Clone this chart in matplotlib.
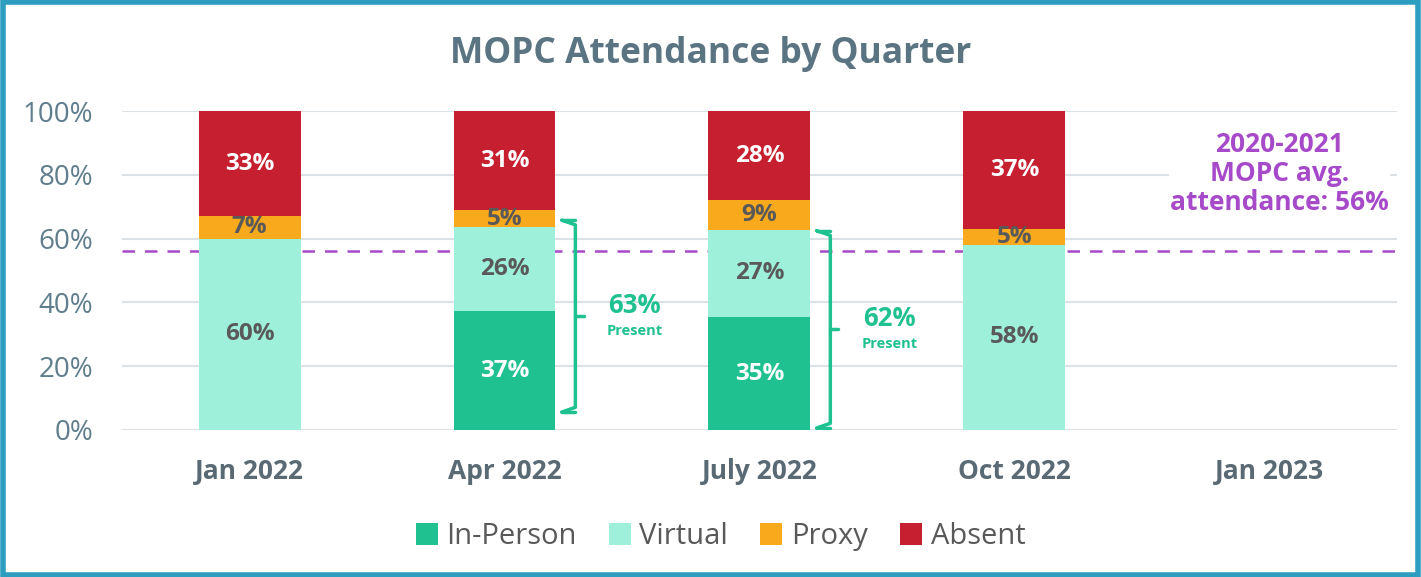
import numpy as np
import matplotlib.pyplot as plt
from matplotlib.patches import Rectangle

plt.rcParams['font.family'] = ['Open Sans', 'DejaVu Sans']

quarters = ['Jan 2022', 'Apr 2022', 'July 2022', 'Oct 2022', 'Jan 2023']
in_person = [0.0, 37.2, 35.4, 0.0, 0.0]
virtual = [60.0, 26.4, 27.4, 58.0, 0.0]
proxy = [7.0, 5.3, 9.2, 5.0, 0.0]
absent = [33.0, 31.1, 28.0, 37.0, 0.0]
present_labels = {1: '63%', 2: '62%'}
avg_2020_2021 = 56

colors = {'In-Person': '#20C191', 'Virtual': '#9FF0DA', 'Proxy': '#F8AA1C', 'Absent': '#C61F30'}
label_colors = {'In-Person': 'white', 'Virtual': '#595959', 'Proxy': '#595959', 'Absent': 'white'}
series = {'In-Person': in_person, 'Virtual': virtual, 'Proxy': proxy, 'Absent': absent}

fig = plt.figure(figsize=(14.21, 5.77), dpi=100)
ax = fig.add_axes([0.0859, 0.2548, 0.8971, 0.5528])

x = np.arange(len(quarters))
bottom = np.zeros(len(quarters))
for name, vals in series.items():
    vals = np.array(vals)
    ax.bar(x, vals, width=0.4, bottom=bottom, color=colors[name], label=name, zorder=2)
    for i, v in enumerate(vals):
        if v > 0:
            ax.text(x[i], bottom[i] + v / 2, f'{v:.0f}%', ha='center', va='center',
                    fontsize=17.5, fontweight='bold', color=label_colors[name], zorder=3)
    bottom += vals

# average line
ax.axhline(avg_2020_2021, color='#A64AC9', lw=1.8, ls=(0, (5, 4)), zorder=1.5)
ax.text(4.04, 80.5, '2020-2021\nMOPC avg.\nattendance: 56%', ha='center', va='center',
        fontsize=19, fontweight='bold', color='#A64AC9', linespacing=1.1,
        bbox=dict(facecolor='white', edgecolor='none', pad=1), zorder=3)

# "present" brackets
green = '#20C191'
for i, lab in present_labels.items():
    lo = 0.6 if i == 2 else 5.6
    hi = in_person[i] + virtual[i] + (2.2 if i == 1 else -0.3)
    mid = (lo + hi) / 2
    x0, x1, x2 = i + 0.224, i + 0.278, i + 0.31
    ax.plot([x0, x1, x1, x0], [lo, lo + 1.5, hi - 1.5, hi], color=green, lw=2.5,
            solid_joinstyle='round', solid_capstyle='round', clip_on=False, zorder=3)
    ax.plot([x0, x1], [lo, lo], color=green, lw=2.5, solid_capstyle='round', zorder=3)
    ax.plot([x0, x1], [hi, hi], color=green, lw=2.5, solid_capstyle='round', zorder=3)
    ax.plot([x1, x2], [mid, mid], color=green, lw=2.5, solid_capstyle='round', zorder=3)
    ax.text(i + 0.51, mid + 3.4, lab, ha='center', va='center', fontsize=18.5,
            fontweight='bold', color=green)
    ax.text(i + 0.51, mid - 4.6, 'Present', ha='center', va='center', fontsize=10.5,
            fontweight='bold', color=green)

ax.set_xlim(-0.5, 4.5)
ax.set_ylim(0, 100)
ax.set_yticks(np.arange(0, 101, 20))
ax.set_yticklabels([f'{t}%' for t in range(0, 101, 20)], fontsize=20, color='#5F7D8C')
ax.set_xticks(x)
ax.set_xticklabels(quarters, fontsize=19, fontweight='bold', color='#5A6A75')
ax.tick_params(axis='both', length=0)
ax.tick_params(axis='x', pad=20)
ax.tick_params(axis='y', pad=21)
ax.grid(axis='y', color='#DCE1E6', lw=1.5, zorder=0)
for s in ax.spines.values():
    s.set_visible(False)

fig.text(0.5, 0.907, 'MOPC Attendance by Quarter', ha='center', va='center',
         fontsize=25.5, fontweight='bold', color='#5B7482')

leg = fig.legend(loc='center', bbox_to_anchor=(0.507, 0.07), ncol=4, frameon=False,
                 fontsize=21, handlelength=0.75, handleheight=0.75, handletextpad=0.3,
                 columnspacing=1.1)
for t in leg.get_texts():
    t.set_color('#595959')

fig.patches.append(Rectangle((0.002, 0.003), 0.996, 0.993, transform=fig.transFigure,
                             fill=False, edgecolor='#2E9EC0', lw=4))

fig.savefig('out.png', dpi=100)
